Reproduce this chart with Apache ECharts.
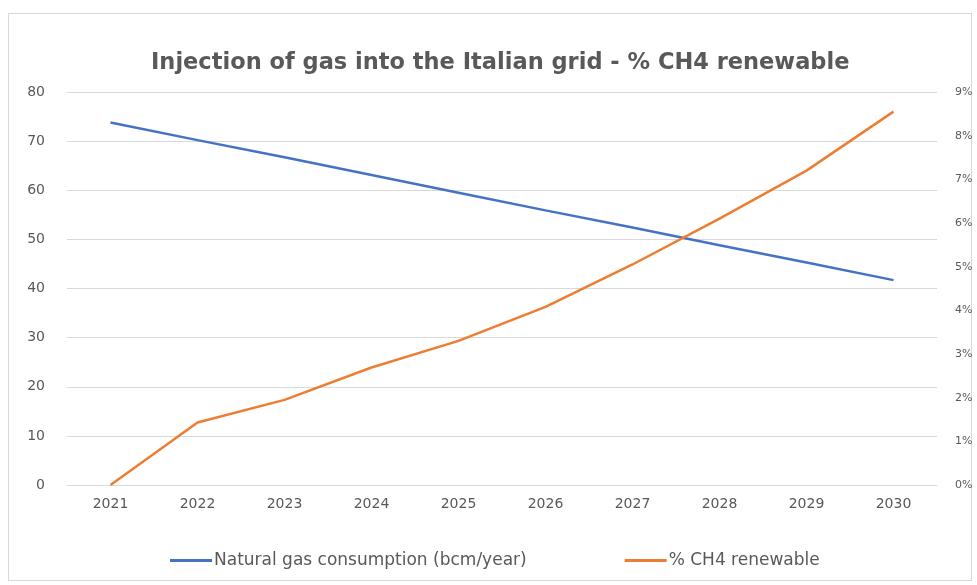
<!DOCTYPE html>
<html>
<head>
<meta charset="utf-8">
<title>Injection of gas into the Italian grid</title>
<script src="https://cdn.jsdelivr.net/npm/echarts@6/dist/echarts.min.js"></script>
<style>
	html, body { margin: 0; padding: 0; background: #fff; }
	#frame { position: absolute; left: 8px; top: 13px; width: 962px; height: 566px; border: 1px solid #d9d9d9; }
	#chartLine { position: absolute; left: 0; top: 0; width: 977px; height: 585px; }
</style>
</head>
<body>
<div id="frame"></div>
<div id="chartLine"></div>
<script>
/*******************************/
/*data*/
/*******************************/
var years = ['2021', '2022', '2023', '2024', '2025', '2026', '2027', '2028', '2029', '2030'];
//natural gas consumption, bcm/year
var gasUse = [73.8, 70.2, 66.7, 63.1, 59.5, 55.9, 52.4, 48.8, 45.3, 41.7];
//share of renewable CH4, %
var ch4Share = [0, 1.43, 1.95, 2.69, 3.3, 4.08, 5.05, 6.1, 7.2, 8.55];
var seriesNames = ['Natural gas consumption (bcm/year)', '% CH4 renewable'];

/*******************************/
/*run on load*/
/*******************************/
window.onload = function () {
	lineChart();
};

/*
**draw the two line series on two y axes
*/
function lineChart() {
	var font = 'DejaVu Sans';
	var grey = '#595959';
	setOption('chartLine', {
		backgroundColor: 'transparent',
		animation: false,
		title: {
			text: 'Injection of gas into the Italian grid - % CH4 renewable',
			left: 146,
			top: 47,
			textStyle: { fontFamily: font, fontSize: 22.5, fontWeight: 'bold', color: grey }
		},
		legend: {
			top: 547,
			left: 165,
			itemWidth: 42,
			itemHeight: 3,
			itemGap: 98,
			icon: 'rect',
			textStyle: { fontFamily: font, fontSize: 17, color: grey, padding: [0, 0, 0, -3] },
			data: seriesNames
		},
		grid: { left: 67, right: 40, top: 92, bottom: 100 },
		xAxis: {
			type: 'category',
			data: years,
			boundaryGap: true,
			axisLine: { lineStyle: { color: '#d9d9d9' } },
			axisTick: { show: false },
			axisLabel: { fontFamily: font, fontSize: 14, color: grey, margin: 12 }
		},
		yAxis: [
			{
				type: 'value',
				min: 0, max: 80, interval: 10,
				axisLine: { show: false },
				axisTick: { show: false },
				axisLabel: { fontFamily: font, fontSize: 14, color: grey, margin: 22 },
				splitLine: { lineStyle: { color: '#d9d9d9' } }
			},
			{
				type: 'value',
				min: 0, max: 9, interval: 1,
				axisLine: { show: false },
				axisTick: { show: false },
				axisLabel: { fontFamily: font, fontSize: 11, color: grey, margin: 18, formatter: '{value}%' },
				splitLine: { show: false }
			}
		],
		series: [
			{
				name: seriesNames[0],
				type: 'line',
				yAxisIndex: 0,
				data: gasUse,
				showSymbol: false,
				lineStyle: { width: 2.5, color: '#4472C4' },
				itemStyle: { color: '#4472C4' }
			},
			{
				name: seriesNames[1],
				type: 'line',
				yAxisIndex: 1,
				data: ch4Share,
				showSymbol: false,
				lineStyle: { width: 2.5, color: '#ED7D31' },
				itemStyle: { color: '#ED7D31' }
			}
		]
	});
}

/*
**init chart on element id and set the option
*/
function setOption(ident, opt) {
	var myChart = echarts.init(document.getElementById(ident));
	myChart.setOption(opt);
}
</script>
</body>
</html>
